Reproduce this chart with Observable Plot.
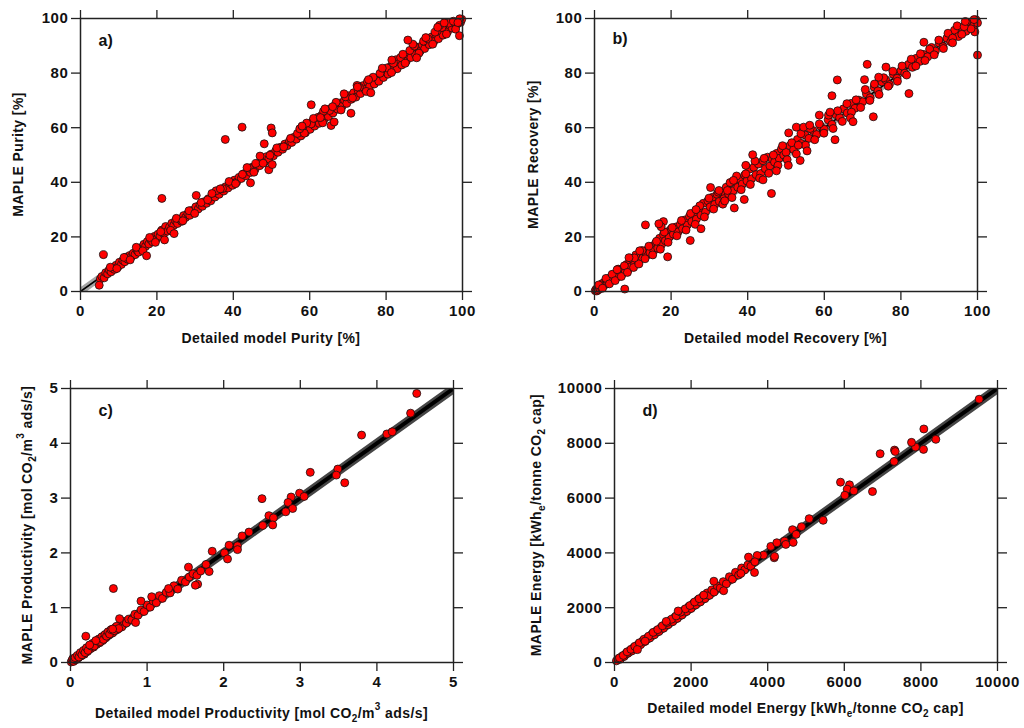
<!DOCTYPE html>
<html><head><meta charset="utf-8">
<script src="https://cdn.jsdelivr.net/npm/d3@7"></script>
<script src="https://cdn.jsdelivr.net/npm/@observablehq/plot@0.6"></script>
<style>
body{margin:0;background:#fff;}
#root{position:relative;width:1024px;height:728px;overflow:hidden;}
.panel{position:absolute;}
.panel svg g[aria-label$="tick label"]{letter-spacing:0.6px;}
</style></head><body><div id="root"></div>
<script>
// ---------- data ----------
const purityTicks = [0, 20, 40, 60, 80, 100];
const recoveryTicks = [0, 20, 40, 60, 80, 100];
const productivityTicks = [0, 1, 2, 3, 4, 5];
const energyTicks = [0, 2000, 4000, 6000, 8000, 10000];

const purityDiag = [0, 100];
const recoveryDiag = [0, 100];
const productivityDiag = [0, 5];
const energyDiag = [0, 10000];

// [detailed model, MAPLE]
const purityPairs = [
[5.2,4.6],[5.6,5.5],[6.2,5.0],[6.6,6.9],[7.1,6.5],[7.5,7.9],[8.0,7.2],[8.4,8.6],[8.9,8.1],[9.3,9.6],[9.8,9.0],[10.2,10.7],[10.7,9.9],[11.1,11.4],[11.6,10.9],[12.0,12.6],[12.4,11.8],[12.9,13.2],[13.3,12.7],[13.8,14.0],[14.3,13.5],[14.8,15.1],[15.2,14.4],[15.7,16.0],[16.1,15.6],[16.6,17.3],[17.0,16.5],[17.5,18.3],[17.9,17.4],[18.4,19.0],[18.9,18.2],[19.4,20.2],[19.8,19.1],[20.3,21.0],[20.8,20.3],[21.3,22.5],[21.8,21.2],[22.3,23.8],[22.8,22.1],[23.3,23.6],[23.9,25.0],[24.4,24.2],[24.9,25.9],[25.4,24.9],[26.0,26.5],[26.5,25.7],[27.0,27.8],[27.5,27.1],[28.1,28.5],[28.6,27.9],[29.1,29.7],[29.7,29.0],[30.2,31.0],[30.8,30.2],[31.3,31.8],[31.9,31.2],[32.4,32.9],[33.0,32.3],[33.5,34.0],[34.1,33.2],[34.7,35.2],[35.2,34.6],[35.8,36.1],[36.3,35.6],[36.9,37.3],[37.5,36.8],[38.0,38.4],[38.6,37.9],[39.2,39.6],[39.8,38.9],[40.3,40.8],[40.9,40.1],[41.5,41.8],[42.1,41.4],[42.7,43.1],[43.3,42.4],[43.9,44.3],[44.5,43.6],[45.1,45.6],[45.7,44.8],[46.3,46.8],[46.9,46.1],[47.5,48.0],[48.1,47.3],[48.7,49.4],[49.3,48.6],[49.9,50.3],[50.5,49.7],[51.1,51.5],[51.7,51.0],[52.3,52.8],[52.9,52.1],[53.5,54.0],[54.1,53.4],[54.7,55.1],[55.3,54.6],[55.9,56.5],[56.5,55.8],[57.1,57.6],[57.7,57.0],[58.3,59.1],[58.9,58.2],[59.5,60.3],[60.1,59.4],[60.7,62.2],[61.3,60.6],[61.9,62.9],[62.5,61.6],[63.1,64.5],[63.7,62.9],[64.3,65.6],[64.9,64.1],[65.5,67.0],[66.1,65.4],[66.7,68.2],[67.3,66.8],[67.9,69.0],[68.5,67.9],[69.1,70.1],[69.7,68.9],[70.3,71.7],[70.9,70.4],[71.5,72.8],[72.1,71.2],[72.7,73.6],[73.3,72.5],[73.9,75.4],[74.5,74.0],[75.1,76.8],[75.7,75.2],[76.3,77.9],[76.9,76.0],[77.5,78.2],[78.1,77.0],[78.7,79.6],[79.3,78.4],[79.9,80.5],[80.5,79.6],[81.1,82.3],[81.7,81.0],[82.3,83.5],[82.9,81.6],[83.5,84.2],[84.1,83.0],[84.7,85.9],[85.3,84.4],[85.9,86.7],[86.5,85.7],[87.1,88.2],[87.7,86.8],[88.3,89.4],[88.9,88.0],[89.5,90.3],[90.1,89.0],[90.7,91.4],[91.3,90.4],[91.9,93.2],[92.5,91.6],[93.1,94.1],[93.7,92.6],[94.3,95.6],[94.9,93.9],[95.5,96.3],[96.1,95.2],[96.7,97.4],[97.3,96.5],[97.9,98.3],[98.5,97.8],[99.0,99.1],[99.5,98.6],[99.8,99.7],[99.3,99.9],
[7.8,8.9],[9.5,8.4],[11.4,12.5],[13.0,11.6],[14.6,16.2],[16.3,14.9],[18.1,19.8],[19.6,18.0],[21.0,21.9],[23.6,22.4],[25.1,26.8],[26.8,25.9],[28.4,29.6],[29.9,28.6],[31.6,32.6],[33.3,33.6],[35.5,36.9],[37.2,37.7],[38.9,40.3],[40.6,39.5],[42.4,42.9],[44.2,45.2],[45.9,46.9],[47.8,47.0],[49.6,49.9],[51.4,52.6],[53.2,53.0],[55.0,56.1],[56.8,57.9],[58.6,58.0],[60.4,61.4],[62.2,63.8],[63.4,61.8],[65.2,66.3],[66.9,69.3],[68.2,66.5],[69.4,71.3],[71.2,70.9],[73.0,74.8],[74.8,73.3],[76.6,78.5],[78.4,79.9],[80.2,81.9],[81.4,80.2],[82.6,84.9],[83.8,85.7],[85.0,83.6],[86.2,88.3],[87.4,89.9],[88.6,87.3],[89.8,91.7],[91.0,92.5],[92.2,90.6],[93.4,95.5],[94.6,96.7],[95.8,94.3],[96.4,98.3],[97.6,99.0],[98.2,96.1],[98.8,98.5],[94.0,97.5],[92.8,95.0],[90.4,93.0],[87.0,90.6],[84.4,86.9],[81.9,83.6],[79.0,81.8],[75.4,77.6],[72.4,75.5],[69.0,72.4],[66.0,67.7],[63.6,66.0],[61.0,63.4],[59.2,61.7],[57.4,59.6],[47.0,49.6],[45.4,43.7],[43.6,45.4],[36.6,37.6],[34.4,35.9],
[6.0,13.5],[4.9,2.3],[21.3,34.1],[17.3,13.1],[37.9,55.7],[42.3,60.2],[49.9,59.9],[50.2,58.1],[48.1,54.1],[49.3,44.6],[50.2,46.5],[44.5,39.8],[30.3,35.2],[60.4,68.4],[70.8,65.3],[65.6,60.8],[66.4,62.1],[85.7,92.1],[99.2,93.7],[76.0,72.8],[22.0,18.9],[24.5,21.2],[93.5,96.8],[95.2,98.4],[88.0,85.6],[81.5,84.8],[64.0,66.9],[62.8,63.7],[72.5,74.9],[58.0,60.6]
];

const recoveryPairs = [
[0.2,0.3],[0.4,0.8],[0.6,0.2],[0.8,1.2],[1.0,0.6],[1.2,1.8],[1.4,1.1],[1.6,2.3],[1.8,1.5],[2.0,2.9],[2.3,2.0],[2.6,3.4],[2.9,2.6],[3.2,4.1],[3.5,3.0],[3.8,4.8],[4.1,3.7],[4.4,5.3],[4.8,4.2],[5.2,6.0],[5.6,4.9],[6.0,6.9],[6.4,5.6],[6.8,7.8],[7.2,6.3],[7.6,8.6],[8.0,7.2],[8.4,9.9],[8.8,8.0],[9.2,10.8],[9.6,9.1],[10.0,11.9],[10.5,10.2],[11.0,12.7],[11.5,11.0],[12.0,13.5],[12.5,12.2],[13.0,14.8],[13.5,13.1],[14.0,15.5],[14.5,14.2],[15.0,16.6],[15.5,15.0],[16.0,17.8],[16.5,15.9],[17.0,19.5],[17.5,17.2],[18.0,20.8],[18.5,18.6],[19.0,21.9],[19.5,19.9],[20.0,22.9],[20.6,21.0],[21.2,23.6],[21.8,21.8],[22.4,24.6],[23.0,23.0],[23.6,26.2],[24.2,24.3],[24.8,27.5],[25.4,25.6],[26.0,28.4],[26.6,26.5],[27.2,30.1],[27.8,28.0],[28.4,32.3],[29.0,29.1],[29.6,33.2],[30.2,31.0],[30.8,34.5],[31.4,31.9],[32.0,35.6],[32.6,33.0],[33.2,36.1],[33.8,34.0],[34.4,38.2],[35.0,35.8],[35.6,39.8],[36.2,36.9],[36.8,40.6],[37.4,38.2],[38.0,41.1],[38.6,39.4],[39.2,42.6],[39.8,40.5],[40.4,44.8],[41.0,41.3],[41.6,45.5],[42.2,42.8],[42.8,46.7],[43.4,43.2],[44.0,47.9],[44.6,45.0],[45.2,49.2],[45.8,46.0],[46.4,48.5],[47.0,47.4],[47.6,50.6],[48.2,48.8],[48.8,52.2],[49.4,50.0],[50.0,51.0],[51.0,53.4],[52.0,52.0],[53.0,55.7],[54.0,54.2],[55.0,57.3],[56.0,56.1],[57.0,59.0],[58.0,57.5],[59.0,60.6],[60.0,59.4],[61.0,62.9],[62.0,61.2],[63.0,64.8],[64.0,63.7],[65.0,66.9],[66.0,65.4],[67.0,68.9],[68.0,67.1],[69.0,70.1],[70.0,69.5],[71.0,72.4],[72.0,71.0],[73.0,74.9],[74.0,73.5],[75.0,76.8],[76.0,77.6],[77.0,75.8],[78.0,79.6],[79.0,78.1],[80.0,80.9],[81.0,80.0],[82.0,83.2],[83.0,82.1],[84.0,85.4],[85.0,84.3],[86.0,86.8],[87.0,86.0],[88.0,89.4],[89.0,88.1],[90.0,91.0],[91.0,89.7],[92.0,92.8],[93.0,91.5],[94.0,95.7],[95.0,93.4],[96.0,96.6],[97.0,95.3],[98.0,97.9],[99.0,97.4],[99.6,99.5],[100,98.4],[99.3,95.1],
[1.1,2.4],[2.1,1.2],[3.0,4.8],[3.9,2.8],[4.6,6.3],[5.4,4.0],[6.2,8.2],[7.0,5.5],[7.8,9.4],[8.6,7.0],[9.4,12.2],[10.2,8.8],[10.8,13.4],[11.6,10.1],[12.4,15.0],[13.2,12.0],[14.2,16.6],[15.2,13.4],[16.2,18.4],[17.2,15.5],[18.2,21.8],[19.2,18.0],[20.3,23.4],[21.5,20.4],[22.7,26.0],[23.9,22.5],[25.1,28.6],[26.3,24.6],[27.5,31.4],[28.7,27.3],[29.9,34.2],[31.1,30.2],[32.3,36.4],[33.5,32.0],[34.7,37.0],[35.9,34.4],[37.1,42.3],[38.3,37.3],[39.5,43.1],[40.7,39.2],[41.9,47.8],[43.1,41.5],[44.3,48.8],[45.5,43.3],[46.7,50.0],[47.9,46.2],[49.1,53.4],[50.3,48.3],[51.5,54.5],[52.7,50.4],[53.9,57.8],[55.1,53.6],[56.3,59.7],[57.5,55.6],[58.7,61.4],[59.9,58.0],[61.1,64.6],[62.3,59.7],[63.5,66.2],[64.7,62.3],[65.9,68.8],[67.1,65.7],[68.3,70.2],[69.5,67.4],[70.7,74.0],[71.9,70.0],[73.1,76.0],[74.3,72.2],[75.5,78.3],[76.7,75.2],[77.9,80.7],[79.1,77.0],[80.3,82.6],[81.5,79.3],[82.7,85.1],[83.9,82.6],[85.1,87.1],[86.3,84.6],[87.5,88.8],[88.7,86.7],[89.9,92.1],[91.1,89.0],[92.3,94.6],[93.5,92.8],[94.7,97.3],[95.9,94.2],[97.1,98.6],[98.3,96.2],[99.1,99.6],[96.5,97.0],
[13.3,24.4],[7.9,0.9],[19.1,12.7],[25.0,18.7],[30.3,38.1],[36.5,30.6],[39.1,33.7],[39.5,46.2],[41.3,50.1],[46.2,35.9],[50.7,58.1],[52.7,60.2],[54.6,60.2],[56.2,60.9],[62.8,55.6],[62.0,71.7],[63.4,77.5],[71.2,83.2],[76.1,82.2],[72.8,64.0],[66.8,63.6],[82.1,72.5],[100,86.6],[50.6,46.2],[53.7,48.0],[53.2,53.6],[44.0,40.9],[47.5,44.2],[55.5,51.5],[35.4,39.9],[32.5,37.0],[26.5,30.0],[18.0,25.6],[17.4,23.7],[16.8,24.8],[27.8,23.0],[36.3,40.7],[34.0,33.2],[58.7,64.6],[61.5,65.7],[67.5,62.2],[70.5,77.6],[74.2,78.5],[86.0,91.3],[93.5,91.1],[96.8,98.9],[10.4,12.3],[11.8,14.9],[5.9,8.0],[9.0,12.4]
];

const productivityPairs = [
[0.01,0.01],[0.02,0.04],[0.04,0.02],[0.05,0.06],[0.07,0.05],[0.08,0.10],[0.10,0.08],[0.12,0.15],[0.14,0.12],[0.16,0.19],[0.18,0.15],[0.20,0.24],[0.22,0.20],[0.24,0.28],[0.26,0.25],[0.28,0.32],[0.30,0.28],[0.32,0.36],[0.34,0.33],[0.36,0.40],[0.38,0.36],[0.40,0.44],[0.42,0.40],[0.44,0.49],[0.46,0.45],[0.48,0.53],[0.50,0.50],[0.52,0.57],[0.55,0.54],[0.58,0.63],[0.61,0.60],[0.64,0.67],[0.67,0.65],[0.70,0.75],[0.73,0.72],[0.76,0.79],[0.80,0.78],[0.84,0.88],[0.88,0.86],[0.92,0.96],[0.96,0.93],[1.00,1.05],[1.04,1.01],[1.08,1.12],[1.12,1.09],[1.16,1.22],[1.20,1.17],[1.25,1.28],[1.30,1.27],[1.35,1.40],[1.40,1.34],[1.45,1.50],[1.50,1.47],[1.55,1.56],[1.60,1.62],[1.65,1.59],
[0.03,0.07],[0.06,0.09],[0.09,0.13],[0.11,0.10],[0.13,0.18],[0.15,0.14],[0.17,0.22],[0.19,0.18],[0.21,0.27],[0.23,0.22],[0.27,0.30],[0.29,0.35],[0.31,0.30],[0.35,0.39],[0.37,0.43],[0.39,0.38],[0.41,0.47],[0.43,0.42],[0.45,0.51],[0.47,0.48],[0.49,0.56],[0.51,0.52],[0.53,0.60],[0.57,0.58],[0.60,0.66],[0.63,0.62],
[4.52,4.91],[4.44,4.55],[4.13,4.17],[4.20,4.21],[3.80,4.15],[3.13,3.47],[3.49,3.53],[3.47,3.42],[3.58,3.28],[2.50,2.99],[2.88,3.02],[2.84,2.92],[2.90,2.81],[2.81,2.75],[2.99,3.09],[3.05,3.03],[2.59,2.68],[2.65,2.64],[2.64,2.51],[2.51,2.50],[2.33,2.38],[2.24,2.31],[2.18,2.13],[2.18,2.06],[2.07,2.14],[2.01,2.00],[2.05,1.89],[1.85,2.03],[1.81,1.66],[1.77,1.79],[1.70,1.67],[1.66,1.43],[1.63,1.41],[1.54,1.74],[0.56,1.35],[0.20,0.48],[0.64,0.80],[0.33,0.40],[0.25,0.32],[0.92,1.12],[1.06,1.20],[1.28,1.35],[0.85,0.73],[0.55,0.61]
];

const energyPairs = [
[50,60],[100,130],[150,120],[200,230],[250,220],[300,330],[350,340],[400,430],[450,420],[500,540],[560,530],[620,660],[680,650],[740,790],[800,770],[860,900],[920,890],[980,1040],[1040,1010],[1100,1160],[1160,1130],[1220,1290],[1280,1250],[1340,1410],[1400,1380],[1460,1540],[1520,1490],[1580,1660],[1640,1610],[1700,1790],[1760,1730],[1820,1910],[1880,1860],[1940,2040],[2000,1970],[2060,2160],[2120,2100],[2180,2290],[2240,2210],[2300,2400],[2360,2330],[2420,2540],[2480,2450],[2540,2650],[2600,2570],[2680,2800],[2760,2720],[2840,2950],[2920,2870],[3000,3130],[3080,3040],[3160,3290],[3240,3190],[3320,3450],[3400,3380],[3480,3560],[3560,3510],
[130,170],[230,260],[330,390],[430,480],[530,590],[650,720],[770,850],[890,960],[1010,1100],[1130,1200],[1250,1340],[1370,1460],[1490,1580],[1610,1700],[1730,1840],[1850,1960],[1970,2080],[2090,2210],[2210,2330],[2330,2460],
[9521,9609],[8077,8523],[8390,8144],[8068,7778],[7859,7863],[7755,8034],[7311,7753],[7330,7700],[7302,7338],[6936,7619],[6736,6239],[5901,6581],[6136,6484],[6075,6325],[6249,6264],[6014,6105],[5448,5189],[5083,5250],[4883,4957],[4648,4847],[4743,4676],[4665,4383],[4439,4432],[4473,4310],[4169,3822],[4180,3870],[4082,4237],[4238,4371],[3890,3919],[3725,3907],[3664,3675],[3499,3846],[3655,3285],[2594,2967],[1662,1880],[2850,2620],[3300,3250],[1350,1500],[800,780],[600,470]
];

const panels = [
  {left:0, top:0, height:364, mt:18, mb:73, ml:80, mr:50, domain:[0,100], ticks:purityTicks, diag:purityDiag, pairs:purityPairs,
   letter:"a)", ldx:18, ldy:16, band:["#9a9a9a",7,0.9], line:["#000",1.6],
   ylab:[["MAPLE Purity [%]"]], ylx:23, xlab:[["Detailed model Purity [%]"]], xly:343},
  {left:512, top:0, height:364, mt:18, mb:73, ml:82, mr:47, domain:[0,100], ticks:recoveryTicks, diag:recoveryDiag, pairs:recoveryPairs,
   letter:"b)", ldx:18, ldy:14, band:["#9a9a9a",7,0.9], line:["#000",1.6],
   ylab:[["MAPLE Recovery [%]"]], ylx:26, xlab:[["Detailed model Recovery [%]"]], xly:343},
  {left:0, top:364, height:364, mt:24, mb:66, ml:70, mr:59, domain:[0,5], ticks:productivityTicks, diag:productivityDiag, pairs:productivityPairs,
   letter:"c)", ldx:28, ldy:16, band:["#3c3c3c",9,0.95], line:["#000",4],
   ylab:[["MAPLE Productivity [mol CO"],["2","sub"],["/m"],["3","sup"],[" ads/s]"]], ylx:32,
   xlab:[["Detailed model Productivity [mol CO"],["2","sub"],["/m"],["3","sup"],[" ads/s]"]], xly:354},
  {left:512, top:364, height:364, mt:24, mb:66, ml:102, mr:27, domain:[0,10000], ticks:energyTicks, diag:energyDiag, pairs:energyPairs,
   letter:"d)", ldx:28, ldy:16, band:["#3c3c3c",9,0.95], line:["#000",4],
   ylab:[["MAPLE Energy [kWh"],["e","sub"],["/tonne CO"],["2","sub"],[" cap]"]], ylx:29,
   xlab:[["Detailed model Energy [kWh"],["e","sub"],["/tonne CO"],["2","sub"],[" cap]"]], xly:349}
];

const FONT = "'Liberation Sans', Arial, Helvetica, sans-serif";
const root = document.getElementById("root");

function addLabel(svg, x, y, rot, parts) {
  const t = d3.select(svg).append("text")
    .attr("transform", `translate(${x},${y}) rotate(${rot})`)
    .attr("text-anchor", "middle")
    .attr("font-family", FONT).attr("font-weight", "bold")
    .attr("font-size", 14).attr("letter-spacing", "0.4px").attr("fill", "#111");
  let shift = 0;
  for (const [s, k] of parts) {
    const target = k === "sub" ? 4 : k === "sup" ? -8 : 0;
    t.append("tspan").attr("dy", target - shift).attr("font-size", k ? 10 : 14).text(s);
    shift = target;
  }
}

for (const p of panels) {
  const W = 512;
  const axisOpts = {ticks: p.ticks, tickSize: 9, label: null, stroke: "#222", strokeWidth: 1.3};
  const svg = Plot.plot({
    width: W, height: p.height,
    marginTop: p.mt, marginBottom: p.mb, marginLeft: p.ml, marginRight: p.mr,
    x: {domain: p.domain},
    y: {domain: p.domain},
    style: {fontFamily: FONT, fontSize: "15px", fontWeight: "bold", color: "#111", background: "white", overflow: "visible"},
    marks: [
      Plot.line(p.diag, {x: d => d, y: d => d, stroke: p.band[0], strokeWidth: p.band[1], strokeOpacity: p.band[2], clip: true}),
      Plot.line(p.diag, {x: d => d, y: d => d, stroke: p.line[0], strokeWidth: p.line[1], clip: true}),
      Plot.dot(p.pairs, {x: d => d[0], y: d => d[1], r: 4, fill: "#ff0000", stroke: "#111", strokeWidth: 0.8}),
      Plot.axisX({...axisOpts, anchor: "bottom", tickPadding: 5, tickFormat: "d"}),
      Plot.axisX({...axisOpts, anchor: "top", tickFormat: () => ""}),
      Plot.axisY({...axisOpts, anchor: "left", tickPadding: 3, tickFormat: "d"}),
      Plot.axisY({...axisOpts, anchor: "right", tickFormat: () => ""}),
      Plot.frame({stroke: "#222", strokeWidth: 1.5}),
      Plot.text([p.letter], {frameAnchor: "top-left", textAnchor: "start", lineAnchor: "top", dx: p.ldx, dy: p.ldy, fontSize: 16, fontWeight: "bold", fill: "#111"})
    ]
  });
  const cx = p.ml + (W - p.ml - p.mr) / 2;
  const cy = p.mt + (p.height - p.mt - p.mb) / 2;
  addLabel(svg, p.ylx, cy, -90, p.ylab);
  addLabel(svg, cx, p.xly, 0, p.xlab);
  const div = document.createElement("div");
  div.className = "panel";
  div.style.left = p.left + "px";
  div.style.top = p.top + "px";
  div.appendChild(svg);
  root.appendChild(div);
}
</script>
</body></html>
